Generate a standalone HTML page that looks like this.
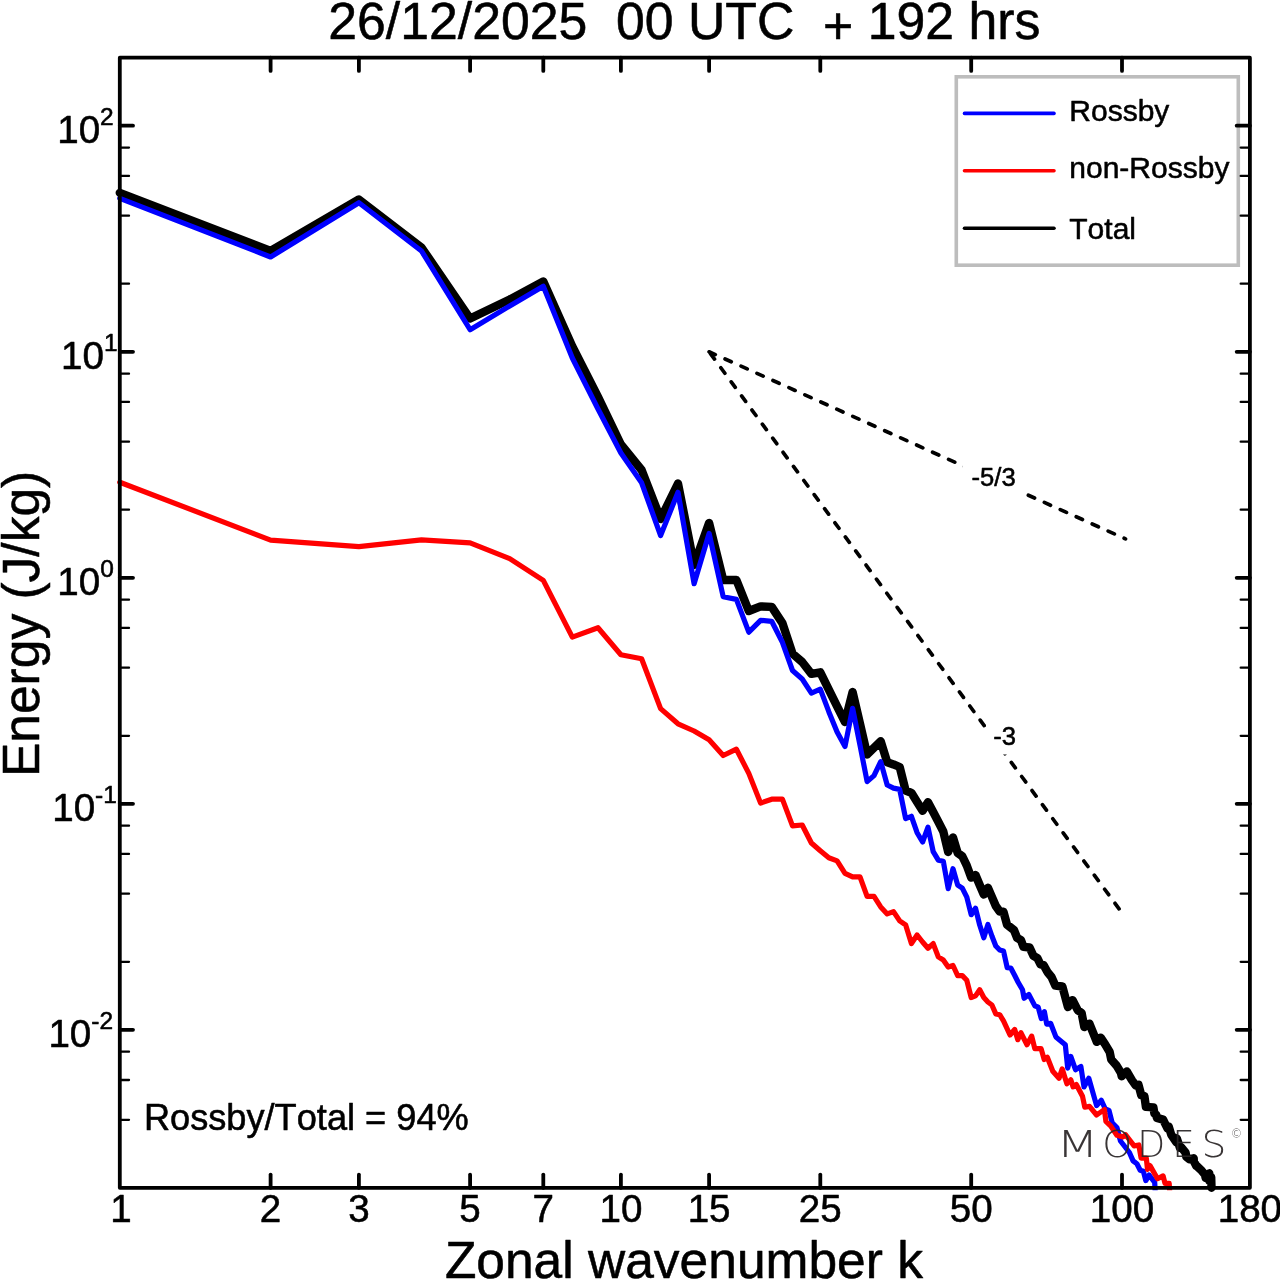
<!DOCTYPE html>
<html lang="en"><head><meta charset="utf-8"><title>Energy spectrum</title>
<style>html,body{margin:0;padding:0;background:#fff;overflow:hidden;}svg{display:block;}text{font-family:'Liberation Sans', sans-serif;font-kerning:none;font-variant-ligatures:none;fill:#000;stroke:#000;stroke-width:0.55px;stroke-linejoin:round;}.wm{stroke:none;}</style>
</head><body>
<svg width="1280" height="1281" viewBox="0 0 1280 1281">
<rect x="0" y="0" width="1280" height="1281" fill="#fff"/>
<defs><clipPath id="ax"><rect x="105" y="50" width="1160" height="1140.3"/></clipPath></defs>
<polyline fill="none" stroke-linejoin="round" stroke-linecap="round" stroke="#000" stroke-width="8.4" points="119.8,192.8 270.6,251.0 358.9,199.5 421.5,247.5 470.1,318.5 509.7,299.5 543.3,281.5 572.3,346.5 598.0,397.0 620.9,444.5 641.6,470.0 660.6,519.0 678.0,483.5 694.1,565.0 709.1,523.0 723.2,580.0 736.4,580.0 748.8,611.0 760.6,606.4 771.7,606.9 782.4,623.1 792.5,653.6 802.2,662.0 811.4,673.8 820.3,672.3 828.8,689.7 837.1,706.4 845.0,722.0 852.6,692.0 860.0,723.6 867.1,754.5 874.0,747.8 880.7,741.3 887.2,762.3 893.5,764.4 899.7,767.0 905.6,790.5 911.4,792.8 917.1,801.9 922.6,810.8 928.0,802.2 933.2,812.0 938.3,821.7 943.3,831.5 948.2,852.0 953.0,837.4 957.7,853.0 962.3,856.2 966.8,865.6 971.2,877.6 975.5,875.0 979.7,885.0 983.8,894.5 987.9,887.8 991.9,896.9 995.8,906.0 999.7,911.5 1003.5,911.8 1007.0,924.6 1014.0,930.1 1017.1,937.9 1021.0,940.2 1023.4,946.8 1029.6,947.5 1033.5,955.9 1037.4,958.2 1040.5,964.5 1043.7,965.2 1047.6,972.3 1051.5,977.0 1055.4,985.7 1062.4,986.5 1067.9,1007.0 1072.6,1000.2 1077.7,1010.2 1081.6,1012.9 1084.3,1027.0 1089.4,1023.6 1096.8,1041.8 1100.7,1037.7 1105.0,1044.1 1109.7,1052.0 1111.2,1059.5 1116.6,1065.6 1120.9,1072.7 1121.7,1076.2 1126.8,1071.5 1131.9,1080.1 1135.8,1085.5 1138.5,1084.8 1141.3,1095.3 1144.4,1096.1 1145.9,1106.9 1153.4,1107.4 1154.4,1113.6 1156.2,1114.6 1156.9,1117.9 1163.1,1119.6 1164.4,1122.3 1167.6,1128.6 1168.7,1126.4 1171.2,1134.6 1176.3,1142.3 1176.8,1138.3 1179.9,1147.7 1181.3,1147.3 1185.6,1152.7 1186.3,1156.7 1189.4,1159.2 1193.7,1158.3 1193.8,1161.1 1196.2,1165.8 1196.9,1166.1 1201.8,1170.8 1204.9,1174.6 1205.7,1177.9 1209.3,1173.3 1209.4,1181.1 1211.2,1177.1 1211.5,1187.7"/>
<g clip-path="url(#ax)" fill="none" stroke-linejoin="round" stroke-linecap="round">
<polyline stroke="#0000ff" stroke-width="5.2" points="119.8,198.3 270.6,257.0 358.9,202.7 421.5,251.0 470.1,329.7 509.7,306.0 543.3,286.3 572.3,358.0 598.0,409.0 620.9,453.0 641.6,482.8 660.6,535.5 678.0,492.3 694.1,583.7 709.1,533.4 723.2,596.7 736.4,599.4 748.8,632.2 760.6,620.3 771.7,621.3 782.4,642.3 792.5,670.5 802.2,679.0 811.4,693.1 820.3,689.2 828.8,711.7 837.1,732.0 845.0,746.5 852.6,708.3 860.0,745.2 867.1,781.6 874.0,775.6 880.7,761.6 887.2,785.0 893.5,788.1 899.7,789.4 905.6,818.6 911.4,816.3 917.1,832.7 922.6,842.0 928.0,827.2 933.2,851.6 938.3,860.2 943.3,861.2 948.2,888.6 953.0,868.7 957.7,885.1 962.3,888.2 966.8,897.2 971.2,914.7 975.5,908.2 979.7,925.0 983.8,937.8 987.9,924.5 991.9,936.0 995.8,946.0 999.7,950.0 1003.5,951.0 1007.2,967.6 1010.8,968.0 1014.5,975.0 1018.0,982.0 1022.5,989.7 1024.1,998.3 1028.8,994.4 1035.0,1006.1 1038.1,1006.9 1041.3,1018.6 1044.4,1011.6 1046.7,1024.1 1050.6,1023.3 1055.9,1036.9 1065.3,1044.7 1067.7,1068.1 1070.8,1056.4 1075.5,1069.7 1080.9,1066.6 1084.0,1086.9 1088.8,1078.3 1096.6,1105.6 1101.3,1100.2 1105.2,1108.8 1109.0,1110.3 1112.2,1122.8 1116.9,1127.5 1120.5,1141.0 1129.4,1152.5 1133.1,1160.9 1136.9,1163.8 1140.2,1170.3 1143.4,1171.3 1145.8,1180.6 1149.1,1175.0 1151.9,1178.8 1154.7,1182.5 1155.2,1192.0"/>
<polyline stroke="#ff0000" stroke-width="5.2" points="119.8,482.2 270.6,540.1 358.9,546.6 421.5,539.8 470.1,542.9 509.7,558.6 543.3,580.4 572.3,637.1 598.0,627.7 620.9,654.7 641.6,658.7 660.6,708.6 678.0,723.8 694.1,731.0 709.1,739.8 723.2,755.5 736.4,749.2 748.8,773.4 760.6,803.1 771.7,799.2 782.4,799.2 792.5,825.8 802.2,825.0 811.4,843.0 820.3,850.8 828.8,857.8 837.1,860.9 845.0,873.4 852.6,876.9 860.0,876.9 867.1,896.4 874.0,896.4 880.7,906.9 887.2,913.9 893.5,911.6 899.7,920.9 905.6,924.8 911.4,943.6 917.1,935.0 922.6,942.0 928.0,948.3 933.2,943.6 938.3,956.9 943.3,960.0 948.2,967.0 953.0,965.5 957.7,975.6 962.3,975.6 966.8,980.3 971.2,997.5 975.5,995.9 979.7,989.7 983.8,997.5 987.9,1002.0 991.9,1005.0 995.8,1013.9 999.7,1014.7 1003.5,1020.9 1010.0,1035.0 1014.7,1029.5 1017.8,1039.7 1020.9,1032.7 1027.0,1044.7 1031.7,1036.1 1034.8,1048.6 1041.1,1048.6 1044.2,1059.5 1047.3,1057.2 1052.8,1071.3 1059.0,1078.3 1062.2,1068.9 1066.9,1083.8 1070.8,1079.8 1073.1,1086.9 1076.3,1084.5 1082.5,1096.3 1084.8,1107.2 1089.5,1106.4 1096.6,1115.0 1104.4,1109.5 1105.9,1121.3 1110.6,1125.9 1116.9,1135.3 1123.1,1136.9 1125.6,1134.7 1134.1,1145.9 1138.8,1145.0 1141.1,1158.1 1146.3,1158.1 1147.5,1169.4 1150.0,1165.6 1157.5,1178.8 1163.1,1175.9 1165.0,1183.4 1169.2,1183.4 1169.7,1192.0"/>
</g>
<g fill="none" stroke="#000" stroke-width="3.7" stroke-linecap="round" stroke-dasharray="6.8 10.7">
<line x1="709.1" y1="351.8" x2="1125.5" y2="538.9"/>
<line x1="709.1" y1="351.8" x2="1122.0" y2="912.8" stroke-dashoffset="-2.3"/>
</g>
<rect x="962.5" y="457" width="62" height="38" fill="#fff"/>
<text x="971.6" y="485.5" font-size="25.6">-5/3</text>
<rect x="986" y="717" width="38.4" height="37.5" fill="#fff"/>
<text x="993.2" y="745.3" font-size="25.6">-3</text>
<rect x="956.3" y="76.8" width="282" height="188.4" fill="#fff" stroke="#bdbdbd" stroke-width="3.6"/>
<g stroke-width="3.6" stroke-linecap="round">
<line x1="964.5" y1="113.4" x2="1054" y2="113.4" stroke="#0000ff"/>
<line x1="964.5" y1="170.7" x2="1054" y2="170.7" stroke="#ff0000"/>
<line x1="964.5" y1="228.2" x2="1054" y2="228.2" stroke="#000"/>
</g>
<text x="1069.3" y="120.8" font-size="30">Rossby</text>
<text x="1069.3" y="178" font-size="30">non-Rossby</text>
<text x="1069.3" y="238.5" font-size="30">Total</text>
<rect x="119.8" y="57.7" width="1130.1" height="1130.1" fill="none" stroke="#000" stroke-width="3.8" stroke-linejoin="round"/>
<g stroke="#000" stroke-width="3.8" stroke-linecap="round"><line x1="270.6" y1="1187.8000000000002" x2="270.6" y2="1174.6000000000001"/><line x1="270.6" y1="57.7" x2="270.6" y2="70.9"/><line x1="358.9" y1="1187.8000000000002" x2="358.9" y2="1174.6000000000001"/><line x1="358.9" y1="57.7" x2="358.9" y2="70.9"/><line x1="470.1" y1="1187.8000000000002" x2="470.1" y2="1174.6000000000001"/><line x1="470.1" y1="57.7" x2="470.1" y2="70.9"/><line x1="543.3" y1="1187.8000000000002" x2="543.3" y2="1174.6000000000001"/><line x1="543.3" y1="57.7" x2="543.3" y2="70.9"/><line x1="620.9" y1="1187.8000000000002" x2="620.9" y2="1174.6000000000001"/><line x1="620.9" y1="57.7" x2="620.9" y2="70.9"/><line x1="709.1" y1="1187.8000000000002" x2="709.1" y2="1174.6000000000001"/><line x1="709.1" y1="57.7" x2="709.1" y2="70.9"/><line x1="820.3" y1="1187.8000000000002" x2="820.3" y2="1174.6000000000001"/><line x1="820.3" y1="57.7" x2="820.3" y2="70.9"/><line x1="971.2" y1="1187.8000000000002" x2="971.2" y2="1174.6000000000001"/><line x1="971.2" y1="57.7" x2="971.2" y2="70.9"/><line x1="1122.0" y1="1187.8000000000002" x2="1122.0" y2="1174.6000000000001"/><line x1="1122.0" y1="57.7" x2="1122.0" y2="70.9"/><line x1="119.8" y1="1029.8" x2="133.0" y2="1029.8"/><line x1="1249.9" y1="1029.8" x2="1236.7" y2="1029.8"/><line x1="119.8" y1="803.8" x2="133.0" y2="803.8"/><line x1="1249.9" y1="803.8" x2="1236.7" y2="803.8"/><line x1="119.8" y1="577.8" x2="133.0" y2="577.8"/><line x1="1249.9" y1="577.8" x2="1236.7" y2="577.8"/><line x1="119.8" y1="351.8" x2="133.0" y2="351.8"/><line x1="1249.9" y1="351.8" x2="1236.7" y2="351.8"/><line x1="119.8" y1="125.7" x2="133.0" y2="125.7"/><line x1="1249.9" y1="125.7" x2="1236.7" y2="125.7"/></g>
<g stroke="#000" stroke-width="2.3" stroke-linecap="round"><line x1="119.8" y1="1119.8" x2="129.0" y2="1119.8"/><line x1="1249.9" y1="1119.8" x2="1240.7" y2="1119.8"/><line x1="119.8" y1="1080.0" x2="129.0" y2="1080.0"/><line x1="1249.9" y1="1080.0" x2="1240.7" y2="1080.0"/><line x1="119.8" y1="1051.7" x2="129.0" y2="1051.7"/><line x1="1249.9" y1="1051.7" x2="1240.7" y2="1051.7"/><line x1="119.8" y1="961.8" x2="129.0" y2="961.8"/><line x1="1249.9" y1="961.8" x2="1240.7" y2="961.8"/><line x1="119.8" y1="893.7" x2="129.0" y2="893.7"/><line x1="1249.9" y1="893.7" x2="1240.7" y2="893.7"/><line x1="119.8" y1="853.9" x2="129.0" y2="853.9"/><line x1="1249.9" y1="853.9" x2="1240.7" y2="853.9"/><line x1="119.8" y1="825.7" x2="129.0" y2="825.7"/><line x1="1249.9" y1="825.7" x2="1240.7" y2="825.7"/><line x1="119.8" y1="735.8" x2="129.0" y2="735.8"/><line x1="1249.9" y1="735.8" x2="1240.7" y2="735.8"/><line x1="119.8" y1="667.7" x2="129.0" y2="667.7"/><line x1="1249.9" y1="667.7" x2="1240.7" y2="667.7"/><line x1="119.8" y1="627.9" x2="129.0" y2="627.9"/><line x1="1249.9" y1="627.9" x2="1240.7" y2="627.9"/><line x1="119.8" y1="599.7" x2="129.0" y2="599.7"/><line x1="1249.9" y1="599.7" x2="1240.7" y2="599.7"/><line x1="119.8" y1="509.7" x2="129.0" y2="509.7"/><line x1="1249.9" y1="509.7" x2="1240.7" y2="509.7"/><line x1="119.8" y1="441.7" x2="129.0" y2="441.7"/><line x1="1249.9" y1="441.7" x2="1240.7" y2="441.7"/><line x1="119.8" y1="401.9" x2="129.0" y2="401.9"/><line x1="1249.9" y1="401.9" x2="1240.7" y2="401.9"/><line x1="119.8" y1="373.7" x2="129.0" y2="373.7"/><line x1="1249.9" y1="373.7" x2="1240.7" y2="373.7"/><line x1="119.8" y1="283.7" x2="129.0" y2="283.7"/><line x1="1249.9" y1="283.7" x2="1240.7" y2="283.7"/><line x1="119.8" y1="215.7" x2="129.0" y2="215.7"/><line x1="1249.9" y1="215.7" x2="1240.7" y2="215.7"/><line x1="119.8" y1="175.9" x2="129.0" y2="175.9"/><line x1="1249.9" y1="175.9" x2="1240.7" y2="175.9"/><line x1="119.8" y1="147.6" x2="129.0" y2="147.6"/><line x1="1249.9" y1="147.6" x2="1240.7" y2="147.6"/></g>
<text x="121.0" y="1222.3" font-size="38.6" text-anchor="middle">1</text>
<text x="270.6" y="1222.3" font-size="38.6" text-anchor="middle">2</text>
<text x="358.9" y="1222.3" font-size="38.6" text-anchor="middle">3</text>
<text x="470.1" y="1222.3" font-size="38.6" text-anchor="middle">5</text>
<text x="543.3" y="1222.3" font-size="38.6" text-anchor="middle">7</text>
<text x="620.9" y="1222.3" font-size="38.6" text-anchor="middle">10</text>
<text x="709.1" y="1222.3" font-size="38.6" text-anchor="middle">15</text>
<text x="820.3" y="1222.3" font-size="38.6" text-anchor="middle">25</text>
<text x="971.2" y="1222.3" font-size="38.6" text-anchor="middle">50</text>
<text x="1122.0" y="1222.3" font-size="38.6" text-anchor="middle">100</text>
<text x="1249.9" y="1222.3" font-size="38.6" text-anchor="middle">180</text>
<text x="48.4" y="1047.3" font-size="38.6">10<tspan font-size="24.5" dy="-18.6">-2</tspan></text>
<text x="52.2" y="821.3" font-size="38.6">10<tspan font-size="24.5" dy="-18.6">-1</tspan></text>
<text x="57.3" y="595.3" font-size="38.6">10<tspan font-size="24.5" dy="-18.6">0</tspan></text>
<text x="61.0" y="369.3" font-size="38.6">10<tspan font-size="24.5" dy="-18.6">1</tspan></text>
<text x="57.2" y="143.2" font-size="38.6">10<tspan font-size="24.5" dy="-18.6">2</tspan></text>
<text x="684.3" y="38.6" font-size="51.75" text-anchor="middle" xml:space="preserve" style="white-space:pre">26/12/2025  00 UTC  <tspan dy="5.6">+</tspan><tspan dy="-5.6"> 192 hrs</tspan></text>
<text x="683.9" y="1278" font-size="51.5" text-anchor="middle">Zonal wavenumber k</text>
<text transform="translate(39.3,623.9) rotate(-90)" font-size="51.5" text-anchor="middle">Energy (J/kg)</text>
<text x="143.9" y="1130.3" font-size="36.2">Rossby/Total = 94%</text>
<text class="wm" y="1157.3" font-size="36.58" style="font-family:'DejaVu Sans','Liberation Sans',sans-serif;font-weight:200;fill:#2b2627" opacity="0.93"><tspan x="1056.22" textLength="42.50" lengthAdjust="spacingAndGlyphs">M</tspan><tspan x="1102.24" textLength="30.11" lengthAdjust="spacingAndGlyphs">O</tspan><tspan x="1137.34" textLength="27.97" lengthAdjust="spacingAndGlyphs">D</tspan><tspan x="1172.40" textLength="22.12" lengthAdjust="spacingAndGlyphs">E</tspan><tspan x="1201.48" textLength="24.84" lengthAdjust="spacingAndGlyphs">S</tspan></text>
<text class="wm" x="1230.8" y="1137.9" font-size="11.4" style="font-family:'DejaVu Sans','Liberation Sans',sans-serif;font-weight:200;fill:#2b2627" opacity="0.93">©</text>
</svg></body></html>
